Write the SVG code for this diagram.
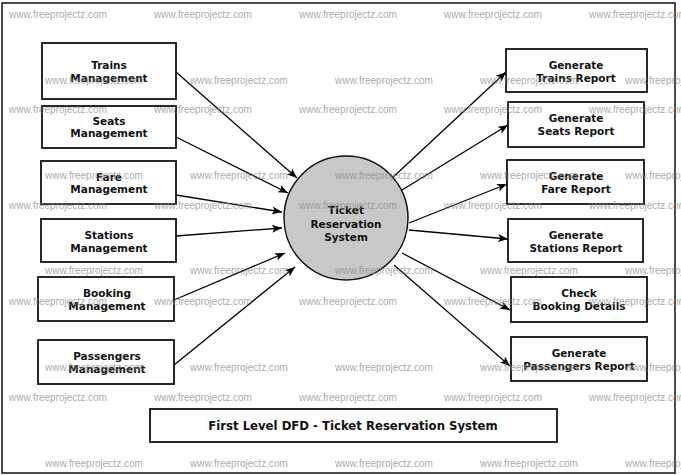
<svg xmlns="http://www.w3.org/2000/svg" width="681" height="475" viewBox="0 0 681 475">
<defs>
<marker id="ah" viewBox="0 0 10 8" refX="10" refY="4" markerWidth="10" markerHeight="8" markerUnits="userSpaceOnUse" orient="auto">
<path d="M0,0 L10,4 L0,8 L2.5,4 z" fill="#000"/>
</marker>
</defs>
<style>
.box{fill:none;stroke:#111;stroke-width:1.8}
.t{font-family:"DejaVu Sans",Verdana,sans-serif;font-weight:bold;font-size:10.5px;fill:#111;text-anchor:middle}
.ttl{font-family:"DejaVu Sans",Verdana,sans-serif;font-weight:bold;font-size:11.7px;fill:#111;text-anchor:middle}
.c{fill:none;stroke:#000;stroke-width:1.3;marker-end:url(#ah)}
.wm{font-family:"Liberation Sans",Arial,sans-serif;font-size:10px;fill:#888;opacity:0.7}
</style>
<rect x="0" y="0" width="681" height="475" fill="#fff"/>
<rect x="2" y="3" width="673" height="470" fill="none" stroke="#111" stroke-width="1.5"/>
<g id="connectors">
<line class="c" x1="176" y1="72" x2="297" y2="178"/>
<line class="c" x1="176" y1="137" x2="288" y2="193"/>
<line class="c" x1="176" y1="195" x2="282" y2="212"/>
<line class="c" x1="176" y1="236" x2="282" y2="228"/>
<line class="c" x1="174" y1="300" x2="285" y2="253"/>
<line class="c" x1="174" y1="365" x2="295" y2="267"/>
<line class="c" x1="390" y1="180" x2="506" y2="72"/>
<line class="c" x1="402" y1="190" x2="508" y2="125"/>
<line class="c" x1="409" y1="223" x2="507" y2="184"/>
<line class="c" x1="409" y1="230" x2="508" y2="239"/>
<line class="c" x1="402" y1="253" x2="510" y2="310"/>
<line class="c" x1="394" y1="265" x2="510" y2="366"/>
</g>
<g id="trains-mgmt"><rect class="box" x="42" y="43" width="134" height="56"/><text class="t" x="109" y="69">Trains</text><text class="t" x="109" y="81.5">Management</text></g>
<g id="seats-mgmt"><rect class="box" x="42" y="106" width="134" height="42"/><text class="t" x="109" y="124.5">Seats</text><text class="t" x="109" y="137">Management</text></g>
<g id="fare-mgmt"><rect class="box" x="41" y="161" width="135" height="43"/><text class="t" x="109" y="180.5">Fare</text><text class="t" x="109" y="193">Management</text></g>
<g id="stations-mgmt"><rect class="box" x="41" y="219" width="135" height="43"/><text class="t" x="109" y="238.5">Stations</text><text class="t" x="109" y="251.5">Management</text></g>
<g id="booking-mgmt"><rect class="box" x="38" y="277" width="136" height="44"/><text class="t" x="107" y="297">Booking</text><text class="t" x="107" y="310">Management</text></g>
<g id="passengers-mgmt"><rect class="box" x="38" y="340" width="136" height="44"/><text class="t" x="107" y="360">Passengers</text><text class="t" x="107" y="372.5">Management</text></g>
<g id="ticket-system"><circle cx="346" cy="218" r="62" fill="#c8c8c8" stroke="#111" stroke-width="1.5"/><text class="t" x="346" y="214">Ticket</text><text class="t" x="346" y="227.5">Reservation</text><text class="t" x="346" y="241">System</text></g>
<g id="gen-trains"><rect class="box" x="506" y="49" width="141" height="43"/><text class="t" x="576" y="69">Generate</text><text class="t" x="576" y="81.5">Trains Report</text></g>
<g id="gen-seats"><rect class="box" x="508" y="102" width="136" height="45"/><text class="t" x="576" y="122">Generate</text><text class="t" x="576" y="134.5">Seats Report</text></g>
<g id="gen-fare"><rect class="box" x="507" y="160" width="137" height="44"/><text class="t" x="576" y="180">Generate</text><text class="t" x="576" y="193">Fare Report</text></g>
<g id="gen-stations"><rect class="box" x="508" y="219" width="135" height="43"/><text class="t" x="576" y="238.5">Generate</text><text class="t" x="576" y="251.5">Stations Report</text></g>
<g id="check-booking"><rect class="box" x="511" y="277" width="136" height="45"/><text class="t" x="579" y="297">Check</text><text class="t" x="579" y="310">Booking Details</text></g>
<g id="gen-passengers"><rect class="box" x="511" y="337" width="136" height="44"/><text class="t" x="579" y="357">Generate</text><text class="t" x="579" y="369.5">Passengers Report</text></g>
<g id="title"><rect class="box" x="150" y="409" width="407" height="33"/><text class="ttl" x="353" y="430">First Level DFD - Ticket Reservation System</text></g>
<g id="watermark">
<text class="wm" x="9" y="18">www.freeprojectz.com</text><text class="wm" x="154" y="18">www.freeprojectz.com</text><text class="wm" x="299" y="18">www.freeprojectz.com</text><text class="wm" x="444" y="18">www.freeprojectz.com</text><text class="wm" x="589" y="18">www.freeprojectz.com</text>
<text class="wm" x="45" y="84">www.freeprojectz.com</text><text class="wm" x="190" y="84">www.freeprojectz.com</text><text class="wm" x="335" y="84">www.freeprojectz.com</text><text class="wm" x="480" y="84">www.freeprojectz.com</text><text class="wm" x="625" y="84">www.freeprojectz.com</text>
<text class="wm" x="9" y="113">www.freeprojectz.com</text><text class="wm" x="154" y="113">www.freeprojectz.com</text><text class="wm" x="299" y="113">www.freeprojectz.com</text><text class="wm" x="444" y="113">www.freeprojectz.com</text><text class="wm" x="589" y="113">www.freeprojectz.com</text>
<text class="wm" x="45" y="179">www.freeprojectz.com</text><text class="wm" x="190" y="179">www.freeprojectz.com</text><text class="wm" x="335" y="179">www.freeprojectz.com</text><text class="wm" x="480" y="179">www.freeprojectz.com</text><text class="wm" x="625" y="179">www.freeprojectz.com</text>
<text class="wm" x="9" y="209">www.freeprojectz.com</text><text class="wm" x="154" y="209">www.freeprojectz.com</text><text class="wm" x="299" y="209">www.freeprojectz.com</text><text class="wm" x="444" y="209">www.freeprojectz.com</text><text class="wm" x="589" y="209">www.freeprojectz.com</text>
<text class="wm" x="45" y="274">www.freeprojectz.com</text><text class="wm" x="190" y="274">www.freeprojectz.com</text><text class="wm" x="335" y="274">www.freeprojectz.com</text><text class="wm" x="480" y="274">www.freeprojectz.com</text><text class="wm" x="625" y="274">www.freeprojectz.com</text>
<text class="wm" x="9" y="305">www.freeprojectz.com</text><text class="wm" x="154" y="305">www.freeprojectz.com</text><text class="wm" x="299" y="305">www.freeprojectz.com</text><text class="wm" x="444" y="305">www.freeprojectz.com</text><text class="wm" x="589" y="305">www.freeprojectz.com</text>
<text class="wm" x="45" y="371">www.freeprojectz.com</text><text class="wm" x="190" y="371">www.freeprojectz.com</text><text class="wm" x="335" y="371">www.freeprojectz.com</text><text class="wm" x="480" y="371">www.freeprojectz.com</text><text class="wm" x="625" y="371">www.freeprojectz.com</text>
<text class="wm" x="9" y="401">www.freeprojectz.com</text><text class="wm" x="154" y="401">www.freeprojectz.com</text><text class="wm" x="299" y="401">www.freeprojectz.com</text><text class="wm" x="444" y="401">www.freeprojectz.com</text><text class="wm" x="589" y="401">www.freeprojectz.com</text>
<text class="wm" x="45" y="467">www.freeprojectz.com</text><text class="wm" x="190" y="467">www.freeprojectz.com</text><text class="wm" x="335" y="467">www.freeprojectz.com</text><text class="wm" x="480" y="467">www.freeprojectz.com</text><text class="wm" x="625" y="467">www.freeprojectz.com</text>
</g>
</svg>
